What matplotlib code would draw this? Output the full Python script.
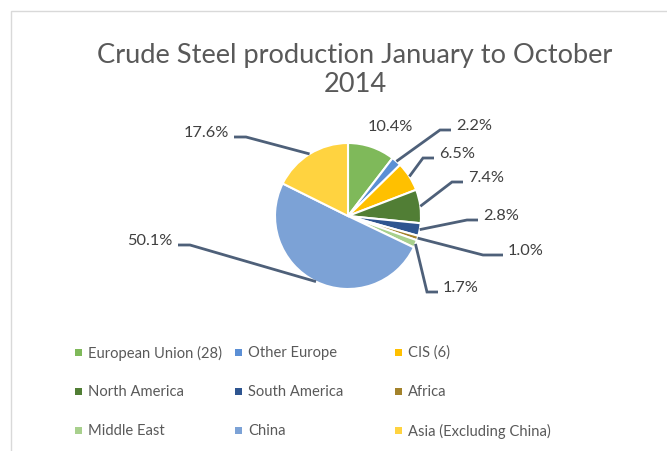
import numpy as np
import matplotlib.pyplot as plt
from matplotlib.patches import Rectangle

plt.rcParams['font.family'] = ['Lato', 'DejaVu Sans']

regions = ['European Union (28)', 'Other Europe', 'CIS (6)', 'North America',
           'South America', 'Africa', 'Middle East', 'China', 'Asia (Excluding China)']
shares = [10.4, 2.2, 6.5, 7.4, 2.8, 1.0, 1.7, 50.1, 17.6]
colors = ['#7fb95a', '#5b8fd5', '#ffc000', '#517e35', '#2e5590',
          '#a3822b', '#a8d08d', '#7ca2d6', '#ffd340']

W, H = 667, 452
cx, cy, R = 348, 217, 73   # pie centre / radius in pixels

fig = plt.figure(figsize=(W / 100, H / 100), dpi=100)
ax = fig.add_axes([0, 0, 1, 1])

wedges, _ = ax.pie(shares, colors=colors, startangle=90, counterclock=False,
                   wedgeprops=dict(edgecolor='white', linewidth=1.5))
ax.set_xlim(-cx / R, (W - cx) / R)
ax.set_ylim((cy - H) / R, cy / R)
ax.set_aspect('auto')
ax.axis('off')

def d(px, py):
    # pixel -> data
    return (px - cx) / R, (cy - py) / R

# leader layout: elbow point and end of the horizontal piece (pixels)
leaders = {
    1: ((440, 131), (451, 131)),
    2: ((423, 159), (434, 159)),
    3: ((452, 183), (463, 183)),
    4: ((467, 221), (478, 221)),
    5: ((483, 256), (503, 256)),
    6: ((427, 293), (438, 293)),
    7: ((190, 246), (178, 246)),
    8: ((246, 138), (234, 138)),
}
line_col = '#4e6079'
lab_col = '#404040'
lab_size = 11.8

for i, w in enumerate(wedges):
    lab = f'{shares[i]:.1f}%'
    if i not in leaders:
        x, y = d(390, 127)
        ax.text(x, y, lab, ha='center', va='center', fontsize=lab_size, color=lab_col)
        continue
    ang = np.deg2rad((w.theta1 + w.theta2) / 2)
    x0, y0 = np.cos(ang), np.sin(ang)
    (ex, ey), (hx, hy) = leaders[i]
    x1, y1 = d(ex, ey)
    x2, y2 = d(hx, hy)
    ax.plot([x0, x1, x2], [y0, y1, y2], color=line_col, lw=2.0,
            solid_capstyle='butt', solid_joinstyle='miter')
    if hx > ex:
        tx, ty = d(hx + 5, hy - 5)
        ax.text(tx, ty, lab, ha='left', va='center', fontsize=lab_size, color=lab_col)
    else:
        tx, ty = d(hx - 5, hy - 5)
        ax.text(tx, ty, lab, ha='right', va='center', fontsize=lab_size, color=lab_col)

# title
fig.text(355 / W, 1 - 70 / H, 'Crude Steel production January to October\n2014',
         ha='center', va='center', fontsize=19.6, color='#595959', linespacing=1.2)

# legend, laid out as a 3x3 grid
rows_y = [353, 392, 431]
cols_x = [78, 238, 398]
for i, (name, c) in enumerate(zip(regions, colors)):
    r, k = divmod(i, 3)
    mx, my = cols_x[k], rows_y[r]
    fig.patches.append(Rectangle(((mx - 3.5) / W, 1 - (my + 3.5) / H), 7 / W, 7 / H,
                                 transform=fig.transFigure, facecolor=c, edgecolor='none'))
    fig.text((mx + 10) / W, 1 - my / H, name, ha='left', va='center',
             fontsize=10.6, color='#595959')

# chart frame
fig.patches.append(Rectangle((11 / W, -0.1), 1.2, 1 - 12 / H + 0.1, transform=fig.transFigure,
                             fill=False, edgecolor='#d9d9d9', lw=1))

fig.savefig('out.png', dpi=100)
